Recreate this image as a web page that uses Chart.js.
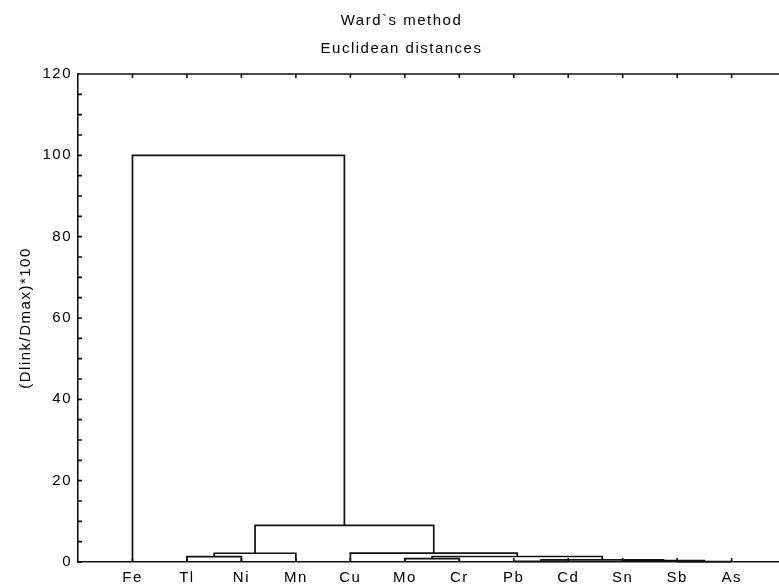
<!DOCTYPE html>
<html>
<head>
<meta charset="utf-8">
<script src="https://cdn.jsdelivr.net/npm/chart.js@4.4.1/dist/chart.umd.min.js"></script>
<style>
  html, body { margin: 0; padding: 0; background: #fff; overflow: hidden; }
  #wrap { width: 779px; height: 588px; overflow: hidden; position: relative; }
  #box { width: 803px; height: 588px; position: absolute; left: 0; top: 0; }
</style>
</head>
<body>
<div id="wrap"><div id="box"><canvas id="c"></canvas></div></div>
<script>
// ---- data ----
const titleText = "Ward`s method";
const subtitleText = "Euclidean distances";
const yTitle = "(Dlink/Dmax)*100";
const leaves = ["Fe", "Tl", "Ni", "Mn", "Cu", "Mo", "Cr", "Pb", "Cd", "Sn", "Sb", "As"];
// linkage: merge i joins mergeA[i] and mergeB[i] (ids < 12 are leaves, id 12+k is merge k)
const mergeA = [10, 7, 9, 13, 5, 1, 16, 17, 4, 19, 0];
const mergeB = [11, 8, 12, 14, 6, 2, 15, 3, 18, 20, 21];
const mergeHeight = [0.1, 0.15, 0.35, 0.5, 0.85, 1.3, 1.35, 2.15, 2.2, 9.0, 100];
const yTicks = [0, 20, 40, 60, 80, 100, 120];

// ---- build link polylines from the linkage ----
const n = leaves.length;
const pos = [], hgt = [];
leaves.forEach((_, i) => { pos[i] = i + 1; hgt[i] = 0; });
const links = [];
mergeA.forEach((a, k) => {
  const b = mergeB[k], h = mergeHeight[k];
  links.push([
    { x: pos[a], y: hgt[a] }, { x: pos[a], y: h },
    { x: pos[b], y: h }, { x: pos[b], y: hgt[b] }
  ]);
  pos[n + k] = (pos[a] + pos[b]) / 2;
  hgt[n + k] = h;
});

const FONT = { family: "'Liberation Sans', Arial, sans-serif", size: 15 };
const INK = '#000';

const spacingPlugin = {
  id: 'spacing',
  beforeLayout(chart) { chart.ctx.letterSpacing = '1.5px'; },
  beforeDraw(chart) { chart.ctx.letterSpacing = '1.5px'; }
};

const framePlugin = {
  id: 'frame',
  afterDraw(chart) {
    const { ctx, chartArea } = chart;
    const xs = chart.scales.x, ys = chart.scales.y;
    const { left, right, top, bottom } = chartArea;
    const tl = 4;
    ctx.save();
    ctx.strokeStyle = '#111';
    ctx.lineWidth = 1.6;
    ctx.beginPath();
    ctx.moveTo(left, top); ctx.lineTo(right, top);
    for (let v = ys.min; v <= ys.max; v += 5) {
      const y = ys.getPixelForValue(v);
      ctx.moveTo(left, y); ctx.lineTo(left + tl, y);
    }
    for (let i = 1; i <= Math.floor(xs.max); i++) {
      const x = xs.getPixelForValue(i);
      ctx.moveTo(x, top); ctx.lineTo(x, top + tl);
      ctx.moveTo(x, bottom); ctx.lineTo(x, bottom - tl);
    }
    ctx.stroke();
    ctx.restore();
  }
};

new Chart(document.getElementById('c'), {
  type: 'line',
  data: {
    datasets: links.map((pts, k) => ({
      label: 'link ' + (k + 1),
      data: pts,
      borderColor: '#111',
      borderWidth: 1.7,
      pointRadius: 0,
      tension: 0,
      fill: false,
      clip: 4
    }))
  },
  options: {
    responsive: true,
    maintainAspectRatio: false,
    animation: false,
    devicePixelRatio: 1,
    layout: { padding: { left: 0, right: 0, top: 0, bottom: 0 } },
    plugins: {
      legend: { display: false },
      tooltip: { enabled: false },
      title: {
        display: true, text: titleText, color: INK,
        font: { ...FONT, weight: 'normal' },
        padding: { top: 12, bottom: 5 }
      },
      subtitle: {
        display: true, text: subtitleText, color: INK,
        font: { ...FONT, weight: 'normal' },
        padding: { top: 5, bottom: 16 }
      }
    },
    scales: {
      x: {
        type: 'linear', min: 0, max: 13.31,
        grid: { display: false, drawTicks: false },
        border: { display: true, color: '#111', width: 1.6 },
        afterBuildTicks(scale) { scale.ticks = leaves.map((_, i) => ({ value: i + 1 })); },
        afterFit(scale) { scale.height = 26; },
        ticks: {
          color: INK, font: FONT, padding: 7, maxRotation: 0, autoSkip: false,
          callback: (v) => leaves[v - 1] || ''
        }
      },
      y: {
        type: 'linear', min: 0, max: 120,
        grid: { display: false, drawTicks: false },
        border: { display: true, color: '#111', width: 1.6 },
        afterBuildTicks(scale) { scale.ticks = yTicks.map(v => ({ value: v })); },
        afterFit(scale) { scale.width = 78; },
        ticks: { color: INK, font: FONT, padding: 6 },
        title: {
          display: true, text: yTitle, color: INK, font: FONT,
          padding: { top: 17, bottom: 0 }
        }
      }
    }
  },
  plugins: [spacingPlugin, framePlugin]
});
</script>
</body>
</html>
